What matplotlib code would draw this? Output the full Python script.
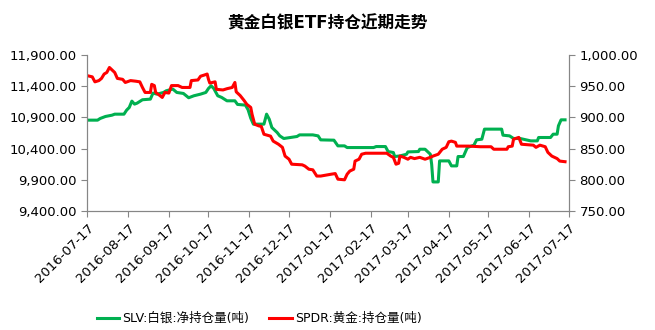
import matplotlib
matplotlib.use("Agg")
import matplotlib.pyplot as plt
import matplotlib.dates as mdates
import pandas as pd

plt.rcParams['font.family'] = ['DejaVu Sans', 'Noto Sans CJK SC']

title = "黄金白银ETF持仓近期走势"
start = "2016-07-17"
tick_dates = [pd.Timestamp(start) + pd.DateOffset(months=m) for m in range(13)]

# SLV silver holdings (left axis), days since 2016-07-17
slv_day = [0, 8, 10, 14, 19, 21, 28, 30, 32, 34, 36, 38, 42, 48, 50, 53, 58, 60, 65, 68,
           73, 77, 81, 86, 90, 92, 94, 96, 99, 102, 106, 112, 114, 120, 122, 124, 126, 134,
           136, 138, 140, 144, 146, 149, 154, 159, 161, 171, 175, 177, 187, 190, 195, 197,
           217, 219, 226, 228, 232, 233, 237, 242, 243, 251, 252, 256, 260, 261, 262, 266,
           267, 274, 276, 280, 281, 285, 288, 293, 295, 299, 301, 314, 315, 320, 323, 328,
           336, 341, 342, 351, 353, 356, 357, 359, 362]
slv_val = [10856, 10856, 10883, 10915, 10936, 10952, 10952, 11016, 11059, 11161, 11113,
           11129, 11183, 11193, 11290, 11273, 11300, 11327, 11354, 11300, 11284, 11215,
           11247, 11273, 11300, 11364, 11407, 11364, 11247, 11220, 11166, 11166, 11108,
           11097, 11022, 10888, 10792, 10792, 10952, 10872, 10738, 10658, 10604, 10562,
           10578, 10594, 10620, 10620, 10604, 10540, 10535, 10444, 10444, 10417, 10417,
           10433, 10433, 10353, 10337, 10273, 10283, 10310, 10347, 10353, 10390, 10390,
           10310, 10149, 9866, 9866, 10203, 10203, 10123, 10123, 10273, 10273, 10417,
           10455, 10540, 10551, 10712, 10712, 10615, 10604, 10562, 10562, 10524, 10524,
           10578, 10578, 10631, 10631, 10765, 10861, 10861]

# SPDR gold holdings (right axis), days since 2016-07-17
spdr_day = [0, 4, 6, 9, 11, 13, 15, 17, 19, 21, 23, 27, 29, 33, 37, 40, 42, 44, 48, 49,
            51, 52, 54, 57, 59, 62, 64, 69, 72, 78, 79, 84, 86, 89, 91, 92, 93, 97, 98,
            103, 106, 110, 112, 113, 116, 119, 121, 124, 125, 127, 130, 132, 134, 139,
            141, 145, 148, 150, 153, 155, 163, 165, 168, 171, 174, 177, 185, 188, 190,
            195, 197, 199, 202, 203, 206, 208, 211, 227, 230, 232, 234, 236, 237, 240,
            243, 245, 248, 252, 256, 260, 262, 266, 269, 272, 274, 276, 279, 280, 289,
            298, 306, 308, 318, 319, 322, 323, 327, 329, 338, 340, 343, 347, 349, 352,
            356, 358, 362]
spdr_val = [967, 965, 957, 959, 962.5, 969.5, 972, 980, 976, 972, 962.5, 961, 956, 959,
            958, 957, 948, 940, 940, 953, 951, 940, 937, 932, 940, 939, 951, 951, 948,
            948, 959, 960, 966, 968, 969.5, 961, 955, 957, 945, 944, 946, 948, 956, 941,
            935, 927, 921, 916, 905, 889, 886.5, 885.5, 873, 870, 862, 857, 852, 838,
            833, 825, 824, 822, 817, 816, 806, 806, 809, 810, 801, 800, 809, 814, 817,
            830, 833, 841, 842.6, 842.6, 838, 836, 825, 826.5, 838, 836, 833, 836, 834,
            836, 833, 836, 838, 841, 849, 852, 861, 862, 860, 854, 854, 853, 853, 849,
            849, 853, 854, 865, 868, 857, 855.5, 852, 855.5, 853, 844, 838, 834, 830, 829]

slv_dates = pd.Timestamp(start) + pd.to_timedelta(slv_day, unit="D")
spdr_dates = pd.Timestamp(start) + pd.to_timedelta(spdr_day, unit="D")

fig = plt.figure(figsize=(6.55, 3.3), dpi=100)
ax = fig.add_axes([0.1328, 0.3606, 0.7359, 0.4727])
ax2 = ax.twinx()

grey = "#868686"
l1, = ax.plot(slv_dates, slv_val, color="#00B050", lw=2.2, label="SLV:白银:净持仓量(吨)")
l2, = ax2.plot(spdr_dates, spdr_val, color="#FF0000", lw=2.2, label="SPDR:黄金:持仓量(吨)")

ax.set_ylim(9400, 11900)
ax.set_yticks(range(9400, 11901, 500))
ax2.set_ylim(750, 1000)
ax2.set_yticks(range(750, 1001, 50))
ax.yaxis.set_major_formatter(plt.FuncFormatter(lambda v, p: f"{v:,.2f}"))
ax2.yaxis.set_major_formatter(plt.FuncFormatter(lambda v, p: f"{v:,.2f}"))

ax.set_xlim(pd.Timestamp("2016-07-17"), pd.Timestamp("2017-07-17"))
ax.set_xticks(tick_dates)
ax.xaxis.set_major_formatter(mdates.DateFormatter("%Y-%m-%d"))
for lbl in ax.get_xticklabels():
    lbl.set_rotation(45)
    lbl.set_ha("right")
    lbl.set_rotation_mode("anchor")

for a in (ax, ax2):
    a.spines["top"].set_visible(False)
    for s in ("left", "right", "bottom"):
        a.spines[s].set_color(grey)
    a.tick_params(colors=grey, labelcolor="black", labelsize=9.5, length=4)
ax.tick_params(axis="x", labelsize=9.5)

fig.text(0.5, 0.93, title, ha="center", va="center", fontsize=12, fontweight="bold")
fig.legend(handles=[l1, l2], loc="center", bbox_to_anchor=(0.396, 0.035), ncol=2,
           frameon=False, fontsize=9, handlelength=1.8, handletextpad=0.25,
           columnspacing=1.6)

fig.savefig("out.png", dpi=100)
